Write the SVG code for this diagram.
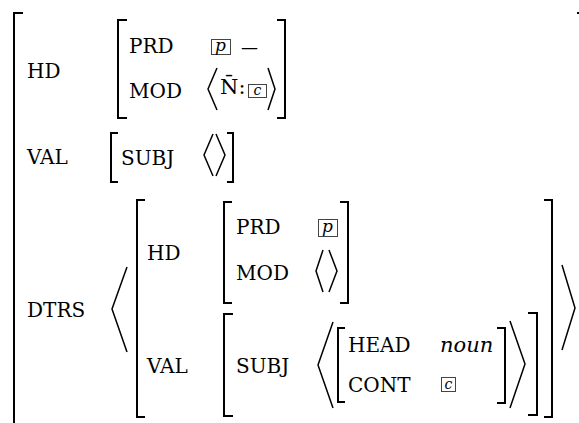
<svg xmlns="http://www.w3.org/2000/svg" width="579" height="423" viewBox="0 0 579 423">
<style>
text{font-family:"DejaVu Serif","Liberation Serif",serif;font-size:20px;fill:#000}
.it{font-style:italic}
.br{fill:none;stroke:#000;stroke-width:2}
.ang{fill:none;stroke:#000;stroke-width:1.5}
.box{fill:none;stroke:#444;stroke-width:1}
</style>
<rect width="579" height="423" fill="#fff"/>
<g id="connectors">
<path class="br" d="M23,13 H14 V430"/>
<path class="br" d="M577,13 H586 V430"/>
</g>
<g id="hd-row">
<text x="27" y="78">HD</text>
<path class="br" d="M127,20 H118 V118 H127"/>
<path class="br" d="M277,20 H285 V118 H277"/>
<text x="129" y="53">PRD</text>
<rect class="box" x="211.5" y="39.5" width="19" height="15"/>
<text class="it" x="220.5" y="51" text-anchor="middle" style="font-size:17px">p</text>
<text x="241" y="53" style="font-size:17px">—</text>
<text x="129" y="98">MOD</text>
<path class="ang" d="M217,68 L208,89 L217,110"/>
<text x="220" y="94" style="font-size:21px">N̄:</text>
<rect class="box" x="248.5" y="84.5" width="18" height="13"/>
<text class="it" x="257.5" y="95" text-anchor="middle" style="font-size:14px">c</text>
<path class="ang" d="M268,68 L275,89 L268,110"/>
</g>
<g id="val-row">
<text x="27" y="164">VAL</text>
<path class="br" d="M118,133 H111 V182 H118"/>
<text x="121" y="165">SUBJ</text>
<path class="ang" d="M213,134 L204,155 L213,176"/>
<path class="ang" d="M216,134 L225,155 L216,176"/>
<path class="br" d="M227,133 H233 V182 H227"/>
</g>
<g id="dtrs-row">
<text x="27" y="317">DTRS</text>
<path class="ang" d="M127,267 L112,309 L127,352"/>
<path class="br" d="M145,200 H137 V417 H145"/>
<path class="br" d="M544,200 H552 V417 H544"/>
<path class="ang" d="M562,265 L575,308 L562,350"/>
</g>
<g id="dtrs-hd">
<text x="147" y="260">HD</text>
<path class="br" d="M232,202 H224 V303 H232"/>
<path class="br" d="M340,202 H348 V303 H340"/>
<text x="236" y="234">PRD</text>
<rect class="box" x="318.5" y="219.5" width="19" height="17"/>
<text class="it" x="327.5" y="232" text-anchor="middle" style="font-size:17px">p</text>
<text x="236" y="280">MOD</text>
<path class="ang" d="M323,250 L316,271 L323,292"/>
<path class="ang" d="M329,250 L337,271 L329,292"/>
</g>
<g id="dtrs-val">
<text x="147" y="373">VAL</text>
<path class="br" d="M233,314 H224 V416 H233"/>
<path class="br" d="M528,313 H537 V415 H528"/>
<text x="236" y="373">SUBJ</text>
<path class="ang" d="M333,322 L318,365 L333,408"/>
<path class="br" d="M345,328 H338 V402 H345"/>
<text x="348" y="352">HEAD</text>
<text class="it" x="440" y="352" style="font-size:21px">noun</text>
<text x="348" y="392">CONT</text>
<rect class="box" x="441.5" y="377.5" width="14" height="14"/>
<text class="it" x="448.5" y="389" text-anchor="middle" style="font-size:14px">c</text>
<path class="br" d="M497,328 H505 V403 H497"/>
<path class="ang" d="M510,321 L525,364 L510,408"/>
</g>
</svg>
